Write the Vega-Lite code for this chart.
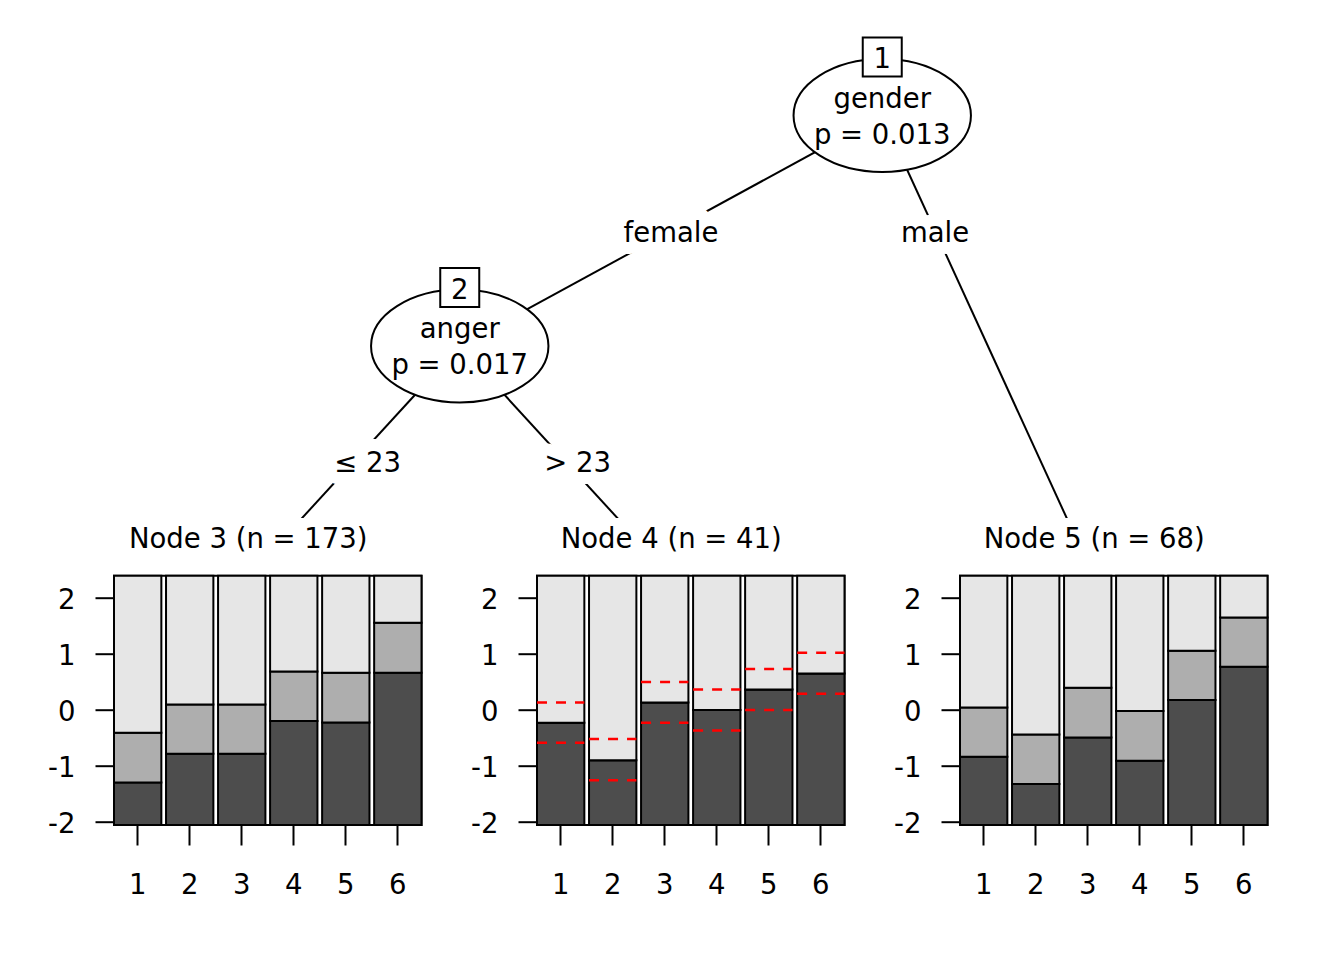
{
  "$schema": "https://vega.github.io/schema/vega-lite/v6.json",
  "background": "white",
  "padding": {"left": 46, "top": 0, "right": 20, "bottom": 20},
  "autosize": {"type": "pad"},
  "bounds": "flush",
  "spacing": 57.7,
  "config": {
    "font": "DejaVu Sans",
    "view": {"stroke": "black", "strokeWidth": 2},
    "axis": {"labelFont": "DejaVu Sans", "labelFontSize": 27.5, "labelColor": "black", "tickColor": "black", "tickWidth": 2, "domain": false, "grid": false},
    "axisY": {"tickSize": 19, "labelPadding": 20, "labelOffset": 3, "labelExpr": "'' + datum.value"},
    "axisX": {"tickSize": 20, "labelPadding": 26.5, "labelAngle": 0},
    "title": {"font": "DejaVu Sans", "fontSize": 27.5, "fontWeight": "normal", "color": "black", "anchor": "middle"}
  },
  "datasets": {
    "nodes": [
      {"id": "1", "x": 2.5, "depth": 1, "variable": "gender", "p": "p = 0.013"},
      {"id": "2", "x": 1.5, "depth": 2, "variable": "anger", "p": "p = 0.017"}
    ],
    "edges": [
      {"x": 2.5, "depth": 1, "x2": 1.5, "depth2": 2, "label": "female", "lx": 2.0, "ldepth": 1.5},
      {"x": 2.5, "depth": 1, "x2": 3, "depth2": 3, "label": "male", "lx": 2.625, "ldepth": 1.5},
      {"x": 1.5, "depth": 2, "x2": 1, "depth2": 3, "label": "≤ 23", "lx": 1.282, "ldepth": 2.5},
      {"x": 1.5, "depth": 2, "x2": 2, "depth2": 3, "label": "> 23", "lx": 1.779, "ldepth": 2.5}
    ],
    "regions": [
      {"node": 3, "item": 1, "lower": -1.303, "upper": -0.413},
      {"node": 3, "item": 2, "lower": -0.79, "upper": 0.092},
      {"node": 3, "item": 3, "lower": -0.79, "upper": 0.092},
      {"node": 3, "item": 4, "lower": -0.205, "upper": 0.682},
      {"node": 3, "item": 5, "lower": -0.229, "upper": 0.658},
      {"node": 3, "item": 6, "lower": 0.658, "upper": 1.55},
      {"node": 4, "item": 1, "lower": -0.235, "upper": -0.235},
      {"node": 4, "item": 2, "lower": -0.902, "upper": -0.902},
      {"node": 4, "item": 3, "lower": 0.128, "upper": 0.128},
      {"node": 4, "item": 4, "lower": -0.009, "upper": -0.009},
      {"node": 4, "item": 5, "lower": 0.36, "upper": 0.36},
      {"node": 4, "item": 6, "lower": 0.646, "upper": 0.646},
      {"node": 5, "item": 1, "lower": -0.842, "upper": 0.039},
      {"node": 5, "item": 2, "lower": -1.33, "upper": -0.443},
      {"node": 5, "item": 3, "lower": -0.497, "upper": 0.39},
      {"node": 5, "item": 4, "lower": -0.914, "upper": -0.027},
      {"node": 5, "item": 5, "lower": 0.17, "upper": 1.05},
      {"node": 5, "item": 6, "lower": 0.765, "upper": 1.646}
    ],
    "thresholds": [
      {"node": 4, "item": 1, "tau": 0.128}, {"node": 4, "item": 1, "tau": -0.592},
      {"node": 4, "item": 2, "tau": -0.527}, {"node": 4, "item": 2, "tau": -1.259},
      {"node": 4, "item": 3, "tau": 0.491}, {"node": 4, "item": 3, "tau": -0.235},
      {"node": 4, "item": 4, "tau": 0.36}, {"node": 4, "item": 4, "tau": -0.372},
      {"node": 4, "item": 5, "tau": 0.723}, {"node": 4, "item": 5, "tau": -0.009},
      {"node": 4, "item": 6, "tau": 1.015}, {"node": 4, "item": 6, "tau": 0.283}
    ]
  },
  "vconcat": [
    {
      "width": 1152.5,
      "height": 518,
      "view": {"stroke": null},
      "encoding": {
        "x": {"field": "x", "type": "quantitative", "scale": {"domain": [0.68166, 3.40947], "nice": false, "zero": false}, "axis": null},
        "y": {"field": "depth", "type": "quantitative", "scale": {"domain": [0.49892, 2.7462], "nice": false, "zero": false, "reverse": true}, "axis": null}
      },
      "layer": [
        {
          "data": {"name": "edges"},
          "mark": {"type": "rule", "clip": true, "color": "black", "strokeWidth": 2},
          "encoding": {"x2": {"field": "x2"}, "y2": {"field": "depth2"}}
        },
        {
          "data": {"name": "edges"},
          "mark": {"type": "text", "font": "DejaVu Sans", "fontSize": 27.5, "fill": "white", "stroke": "white", "strokeWidth": 24, "strokeJoin": "round", "baseline": "alphabetic", "dy": 11},
          "encoding": {"x": {"field": "lx", "type": "quantitative"}, "y": {"field": "ldepth", "type": "quantitative"}, "text": {"field": "label"}}
        },
        {
          "data": {"name": "edges"},
          "mark": {"type": "text", "font": "DejaVu Sans", "fontSize": 27.5, "color": "black", "baseline": "alphabetic", "dy": 11},
          "encoding": {"x": {"field": "lx", "type": "quantitative"}, "y": {"field": "ldepth", "type": "quantitative"}, "text": {"field": "label"}}
        },
        {
          "data": {"name": "nodes"},
          "mark": {"type": "point", "shape": "M1,0C1,0.3518,0.5523,0.637,0,0.637C-0.5523,0.637,-1,0.3518,-1,0C-1,-0.3518,-0.5523,-0.637,0,-0.637C0.5523,-0.637,1,-0.3518,1,0Z", "size": 31471, "filled": true, "fill": "white", "stroke": "black", "strokeWidth": 2, "opacity": 1, "fillOpacity": 1, "strokeOpacity": 1}
        },
        {
          "data": {"name": "nodes"},
          "mark": {"type": "text", "font": "DejaVu Sans", "fontSize": 27.5, "color": "black", "baseline": "alphabetic", "dy": -7.75},
          "encoding": {"text": {"field": "variable"}}
        },
        {
          "data": {"name": "nodes"},
          "mark": {"type": "text", "font": "DejaVu Sans", "fontSize": 27.5, "color": "black", "baseline": "alphabetic", "dy": 28.4},
          "encoding": {"text": {"field": "p"}}
        },
        {
          "data": {"name": "nodes"},
          "mark": {"type": "square", "size": 1521, "filled": true, "fill": "white", "stroke": "black", "strokeWidth": 2, "opacity": 1, "yOffset": -58.5}
        },
        {
          "data": {"name": "nodes"},
          "mark": {"type": "text", "font": "DejaVu Sans", "fontSize": 27.5, "color": "black", "baseline": "alphabetic", "dy": -47.5},
          "encoding": {"text": {"field": "id"}}
        }
      ]
    },
    {
      "bounds": "flush",
      "spacing": 115,
      "hconcat": [
        {
          "width": 307.5,
          "height": 249.3,
          "title": {"text": "Node 3 (n = 173)", "dx": -19.5, "dy": 26.3, "offset": 25.5, "baseline": "alphabetic"},
          "data": {"name": "regions"},
          "transform": [{"filter": "datum.node == 3"}],
          "encoding": {
            "x": {"field": "item", "type": "ordinal", "scale": {"type": "band", "paddingInner": 0.09, "paddingOuter": 0}, "axis": {"title": null}}
          },
          "layer": [
            {
              "mark": {"type": "rect", "fill": "#4D4D4D", "stroke": "black", "strokeWidth": 2},
              "encoding": {
                "y": {"field": "lower", "type": "quantitative", "scale": {"domain": [-2.06, 2.39], "nice": false, "zero": false}, "axis": {"title": null, "values": [-2, -1, 0, 1, 2]}},
                "y2": {"datum": -2.06}
              }
            },
            {
              "mark": {"type": "rect", "fill": "#AEAEAE", "stroke": "black", "strokeWidth": 2},
              "encoding": {"y": {"field": "upper", "type": "quantitative"}, "y2": {"field": "lower"}}
            },
            {
              "mark": {"type": "rect", "fill": "#E6E6E6", "stroke": "black", "strokeWidth": 2},
              "encoding": {"y": {"field": "upper", "type": "quantitative"}, "y2": {"datum": 2.39}}
            }
          ]
        },
        {
          "width": 307.5,
          "height": 249.3,
          "title": {"text": "Node 4 (n = 41)", "dx": -19.5, "dy": 26.3, "offset": 25.5, "baseline": "alphabetic"},
          "data": {"name": "regions"},
          "transform": [{"filter": "datum.node == 4"}],
          "encoding": {
            "x": {"field": "item", "type": "ordinal", "scale": {"type": "band", "paddingInner": 0.09, "paddingOuter": 0}, "axis": {"title": null}}
          },
          "layer": [
            {
              "mark": {"type": "rect", "fill": "#4D4D4D", "stroke": "black", "strokeWidth": 2},
              "encoding": {
                "y": {"field": "lower", "type": "quantitative", "scale": {"domain": [-2.06, 2.39], "nice": false, "zero": false}, "axis": {"title": null, "values": [-2, -1, 0, 1, 2]}},
                "y2": {"datum": -2.06}
              }
            },
            {
              "mark": {"type": "rect", "fill": "#AEAEAE", "stroke": "black", "strokeWidth": 2},
              "encoding": {"y": {"field": "upper", "type": "quantitative"}, "y2": {"field": "lower"}}
            },
            {
              "mark": {"type": "rect", "fill": "#E6E6E6", "stroke": "black", "strokeWidth": 2},
              "encoding": {"y": {"field": "upper", "type": "quantitative"}, "y2": {"datum": 2.39}}
            },
            {
              "data": {"name": "thresholds"},
              "mark": {"type": "rule", "color": "red", "strokeWidth": 2.5, "strokeDash": [10, 9]},
              "encoding": {
                "x": {"field": "item", "type": "ordinal", "bandPosition": 0},
                "x2": {"field": "item", "bandPosition": 1},
                "y": {"field": "tau", "type": "quantitative"}
              }
            }
          ]
        },
        {
          "width": 307.5,
          "height": 249.3,
          "title": {"text": "Node 5 (n = 68)", "dx": -19.5, "dy": 26.3, "offset": 25.5, "baseline": "alphabetic"},
          "data": {"name": "regions"},
          "transform": [{"filter": "datum.node == 5"}],
          "encoding": {
            "x": {"field": "item", "type": "ordinal", "scale": {"type": "band", "paddingInner": 0.09, "paddingOuter": 0}, "axis": {"title": null}}
          },
          "layer": [
            {
              "mark": {"type": "rect", "fill": "#4D4D4D", "stroke": "black", "strokeWidth": 2},
              "encoding": {
                "y": {"field": "lower", "type": "quantitative", "scale": {"domain": [-2.06, 2.39], "nice": false, "zero": false}, "axis": {"title": null, "values": [-2, -1, 0, 1, 2]}},
                "y2": {"datum": -2.06}
              }
            },
            {
              "mark": {"type": "rect", "fill": "#AEAEAE", "stroke": "black", "strokeWidth": 2},
              "encoding": {"y": {"field": "upper", "type": "quantitative"}, "y2": {"field": "lower"}}
            },
            {
              "mark": {"type": "rect", "fill": "#E6E6E6", "stroke": "black", "strokeWidth": 2},
              "encoding": {"y": {"field": "upper", "type": "quantitative"}, "y2": {"datum": 2.39}}
            }
          ]
        }
      ]
    }
  ]
}
